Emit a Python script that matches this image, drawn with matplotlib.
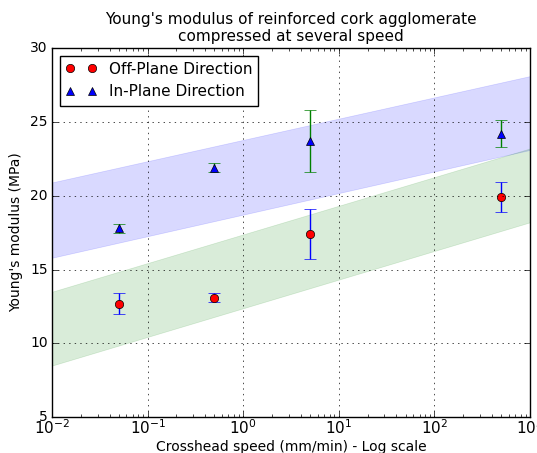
import numpy as np
import matplotlib
matplotlib.use('Agg')
import matplotlib.pyplot as plt

plt.style.use('classic')

# Vitesses de traverse (mm/min)
x_pts = [0.05, 0.5, 5, 500]

# Module d'Young (MPa) et écarts
off_plane = [12.7, 13.1, 17.4, 19.9]
off_plane_err = [0.7, 0.3, 1.7, 1.0]
in_plane = [17.8, 21.9, 23.7, 24.2]
in_plane_err = [0.3, 0.3, 2.1, 0.9]

# Bandes (bornes aux extrémités de l'axe)
band_x = [1e-2, 1e3]
in_band_low = [15.8, 23.1]
in_band_high = [20.9, 28.1]
off_band_low = [8.5, 18.2]
off_band_high = [13.5, 23.2]

fig, ax = plt.subplots(figsize=(5.37, 4.53), dpi=100)
fig.patch.set_facecolor('white')

ax.fill_between(band_x, in_band_low, in_band_high, color='blue', alpha=0.15, lw=0.5, edgecolor='blue')
ax.fill_between(band_x, off_band_low, off_band_high, color='green', alpha=0.15, lw=0.5, edgecolor='green')

# Barres d'erreur
ax.errorbar(x_pts, off_plane, yerr=off_plane_err, fmt='none', ecolor='blue', capsize=4)
ax.errorbar(x_pts, in_plane, yerr=in_plane_err, fmt='none', ecolor='green', capsize=4)

# Points
ax.plot(x_pts, off_plane, 'o', color='red', mec='black', ms=6, label='Off-Plane Direction')
ax.plot(x_pts, in_plane, '^', color='blue', mec='black', ms=6, label='In-Plane Direction')

ax.set_xscale('log')
ax.set_xlim(1e-2, 1e3)
ax.set_ylim(5, 30)
ax.set_yticks([5, 10, 15, 20, 25, 30])
ax.tick_params(axis='x', labelsize=11, pad=1)
ax.tick_params(axis='y', labelsize=10, pad=3)
ax.grid(True)

ax.set_xlabel('Crosshead speed (mm/min) - Log scale', fontsize=10, labelpad=2)
ax.set_ylabel("Young's modulus (MPa)", fontsize=10)
ax.set_title("Young's modulus of reinforced cork agglomerate\ncompressed at several speed", fontsize=11)

ax.legend(loc='upper left', numpoints=2, fontsize=11)

plt.subplots_adjust(left=0.097, right=0.987, top=0.894, bottom=0.079)
plt.savefig('out.png', dpi=100, facecolor='white')
